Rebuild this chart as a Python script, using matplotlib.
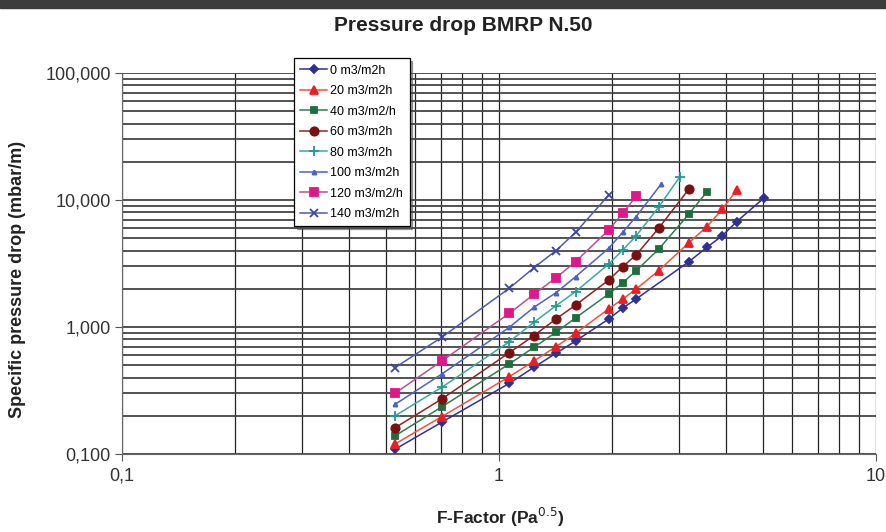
import matplotlib.pyplot as plt
from matplotlib.ticker import FixedLocator, FuncFormatter, LogLocator, NullFormatter

plt.rcParams["font.family"] = ["Liberation Sans Narrow", "Liberation Sans", "DejaVu Sans"]

# F-factor values
x_base = [0.53, 0.705, 1.065, 1.238, 1.416, 1.597, 1.954, 2.13, 2.31]

f_0 = x_base + [3.19, 3.56, 3.91, 4.27, 5.05]
dp_0 = [0.109, 0.178, 0.360, 0.482, 0.621, 0.776, 1.156, 1.41, 1.66, 3.27, 4.24, 5.23, 6.75, 10.4]

f_20 = x_base + [2.65, 3.19, 3.56, 3.91, 4.27]
dp_20 = [0.120, 0.197, 0.406, 0.540, 0.700, 0.891, 1.39, 1.66, 1.99, 2.77, 4.61, 6.17, 8.45, 12.0]

f_40 = x_base + [2.65, 3.19, 3.56]
dp_40 = [0.139, 0.235, 0.512, 0.692, 0.908, 1.18, 1.82, 2.23, 2.77, 4.09, 7.76, 11.6]

f_60 = x_base + [2.65, 3.19]
dp_60 = [0.161, 0.271, 0.628, 0.855, 1.156, 1.49, 2.34, 2.99, 3.69, 5.98, 12.2]

f_80 = x_base + [2.65, 3.02]
dp_80 = [0.200, 0.335, 0.766, 1.09, 1.47, 1.90, 3.13, 4.04, 5.21, 8.77, 15.3]

f_100 = x_base + [2.69]
dp_100 = [0.246, 0.426, 0.994, 1.43, 1.86, 2.49, 4.17, 5.57, 7.39, 13.3]

f_120 = x_base
dp_120 = [0.301, 0.540, 1.28, 1.81, 2.44, 3.27, 5.81, 7.85, 10.7]

f_140 = x_base[:7]
dp_140 = [0.479, 0.830, 2.02, 2.93, 3.99, 5.57, 10.9]

series = [
    ("0 m3/m2h", f_0, dp_0, "#2e3192", "#2e3192", "D", 4.5),
    ("20 m3/m2h", f_20, dp_20, "#f2513f", "#ee1c24", "^", 6),
    ("40 m3/m2/h", f_40, dp_40, "#2f7d4f", "#1e6e3c", "s", 4),
    ("60 m3/m2h", f_60, dp_60, "#8e2323", "#7a1010", "o", 6),
    ("80 m3/m2h", f_80, dp_80, "#3aa8a3", "#1f9a94", "+", 7),
    ("100 m3/m2h", f_100, dp_100, "#4d61c6", "#4d61c6", "^", 3),
    ("120 m3/m2/h", f_120, dp_120, "#b8508f", "#e2168a", "s", 6),
    ("140 m3/m2h", f_140, dp_140, "#5058b8", "#3c44aa", "x", 6),
]

fig = plt.figure(figsize=(8.86, 5.32), dpi=100)
fig.patches.append(plt.Rectangle((0, 0.985), 1, 0.015, transform=fig.transFigure,
                                 color="#3c3c3c", zorder=0))
ax = fig.add_axes([0.1377, 0.1466, 0.851, 0.7162])

for label, xs, ys, lc, mc, mk, ms in series:
    ax.plot(xs, ys, color=lc, lw=1.1, marker=mk, markersize=ms,
            markerfacecolor=mc, markeredgecolor=mc, markeredgewidth=1.3, label=label, zorder=3)

ax.set_xscale("log")
ax.set_yscale("log")
ax.set_xlim(0.1, 10)
ax.set_ylim(0.1, 100)

ax.xaxis.set_major_locator(FixedLocator([0.1, 1, 10]))
ax.xaxis.set_major_formatter(FuncFormatter(lambda v, p: ("%g" % v).replace(".", ",")))
ax.yaxis.set_major_locator(FixedLocator([0.1, 1, 10, 100]))
ax.yaxis.set_major_formatter(FuncFormatter(lambda v, p: ("%.3f" % v).replace(".", ",")))
ax.xaxis.set_minor_locator(LogLocator(base=10, subs=range(2, 10)))
ax.yaxis.set_minor_locator(LogLocator(base=10, subs=range(2, 10)))
ax.xaxis.set_minor_formatter(NullFormatter())
ax.yaxis.set_minor_formatter(NullFormatter())

ax.grid(True, which="both", axis="x", color="#222222", lw=0.9)
ax.grid(True, which="both", axis="y", color="#444444", lw=1.3)
ax.set_axisbelow(True)
ax.tick_params(which="minor", length=0)
ax.tick_params(which="major", direction="out", length=5, color="#555555",
               labelsize=13, labelcolor="#333333")
ax.tick_params(axis="x", pad=5)
ax.tick_params(axis="y", pad=3)
for side in ["top", "right"]:
    ax.spines[side].set_visible(False)
for side in ["left", "bottom"]:
    ax.spines[side].set_color("#666666")

fig.text(0.523, 0.953, "Pressure drop BMRP N.50", fontsize=15, fontweight="bold",
         color="#222222", ha="center", va="center")
fig.text(0.565, 0.028, "F-Factor (Pa$^{0.5}$)", fontsize=12.5, fontweight="bold",
         color="#222222", ha="center", va="center")
fig.text(0.02, 0.475, "Specific pressure drop (mbar/m)", fontsize=13, fontweight="bold",
         color="#222222", ha="center", va="center", rotation=90)

leg = fig.legend(loc="upper left", bbox_to_anchor=(0.325, 0.902), fontsize=9,
                 frameon=True, fancybox=False, shadow=True, edgecolor="#000000",
                 handlelength=2.1, labelspacing=0.68, borderpad=0.5, handletextpad=0.3)
leg.get_frame().set_linewidth(0.9)

fig.savefig("out.png", dpi=100)
